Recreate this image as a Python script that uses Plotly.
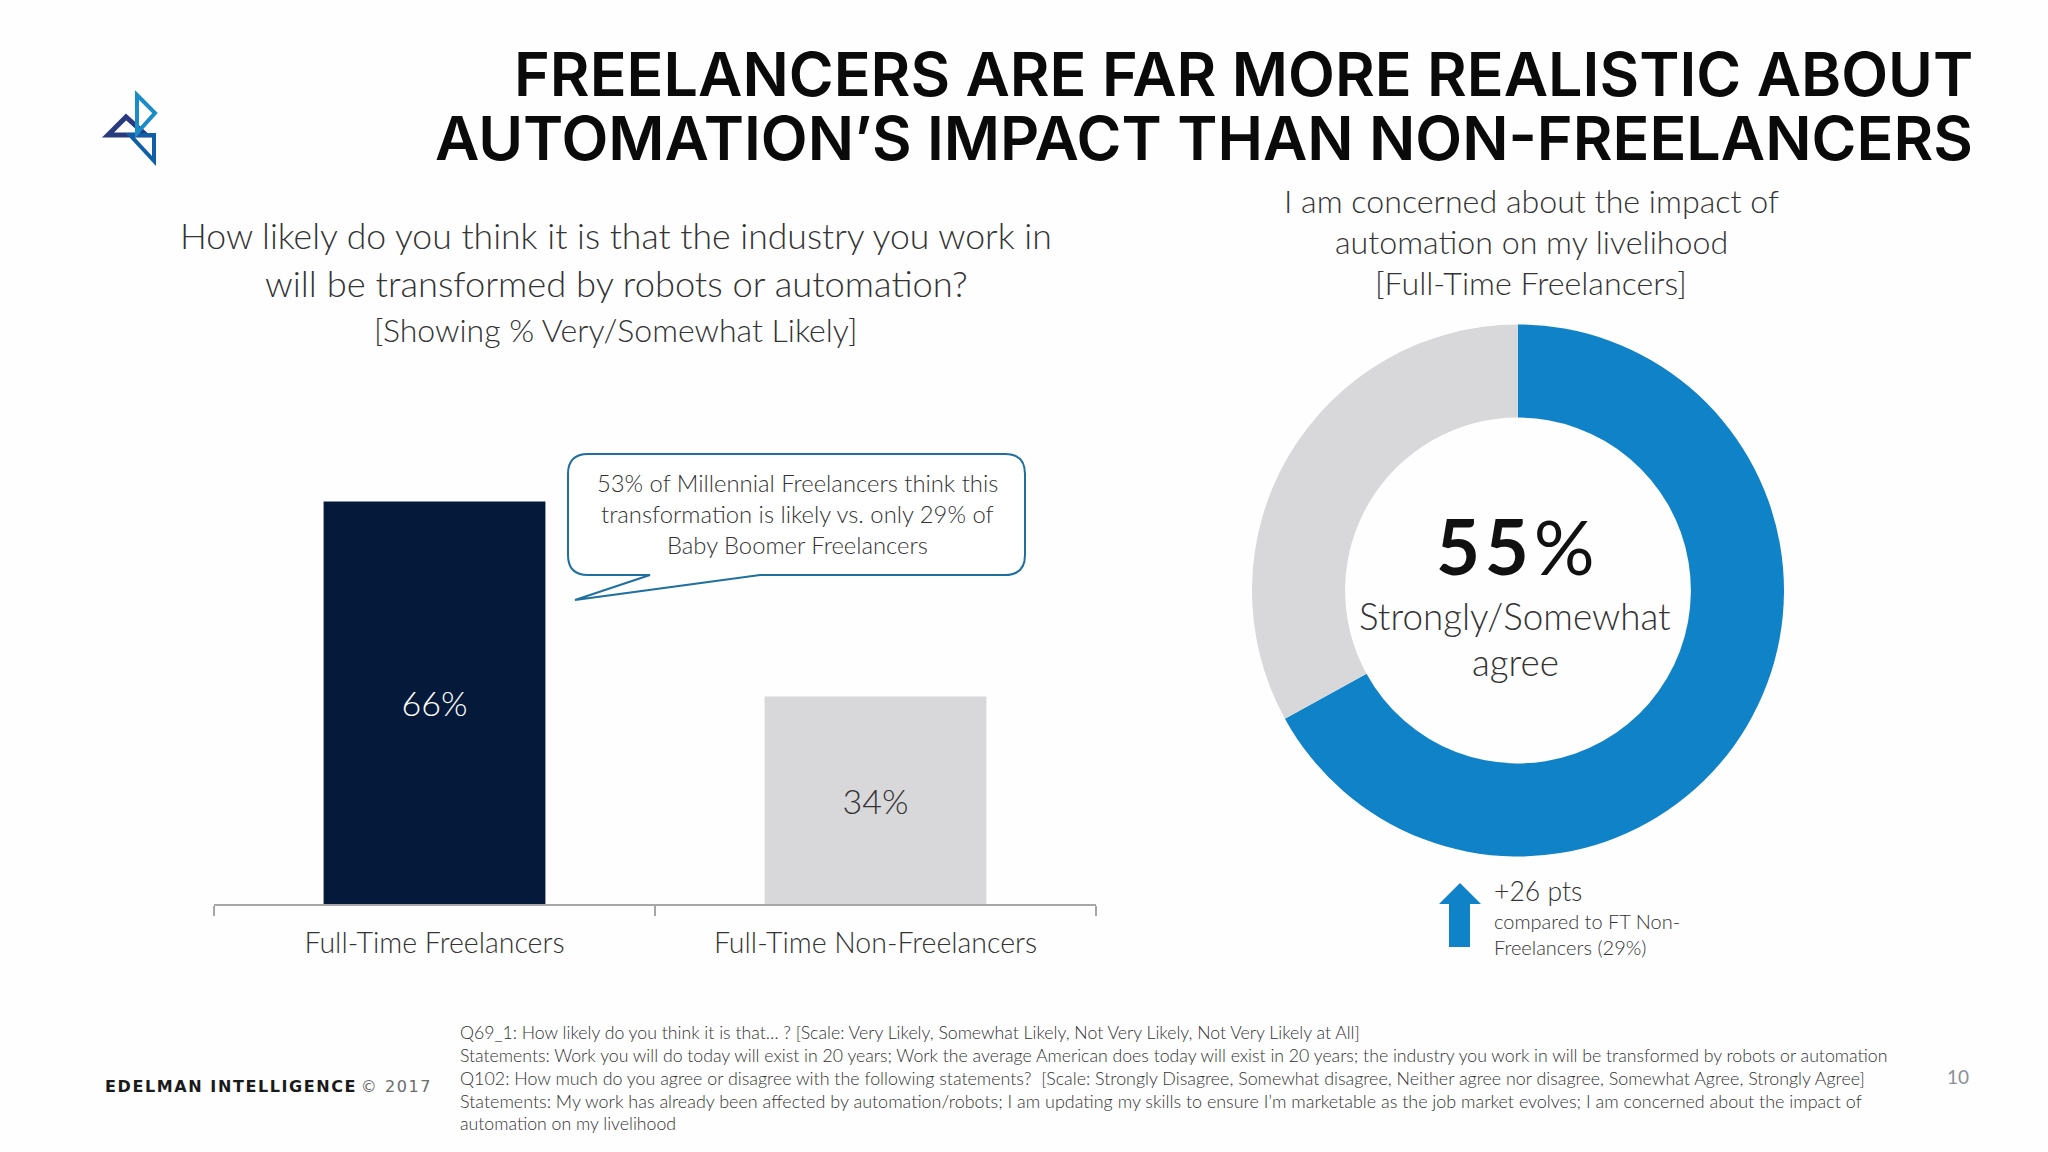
import plotly.graph_objects as go

W = 2048
H = 1152

# bar chart
categories = ['Full-Time Freelancers', 'Full-Time Non-Freelancers']
likely_pct = [66, 34]
bar_labels = ['66%', '34%']

# donut, sized as it is drawn in the slide
donut_labels = ['Strongly/Somewhat agree', 'Other']
donut_values = [67, 33]

title_lines = ['FREELANCERS ARE FAR MORE REALISTIC ABOUT',
               'AUTOMATION’S IMPACT THAN NON-FREELANCERS']
left_question = ['How likely do you think it is that the industry you work in',
                 'will be transformed by robots or automation?',
                 '[Showing % Very/Somewhat Likely]']
right_question = ['I am concerned about the impact of',
                  'automation on my livelihood',
                  '[Full-Time Freelancers]']
callout_lines = ['53% of Millennial Freelancers think this',
                 'transformation is likely vs. only 29% of',
                 'Baby Boomer Freelancers']
footnotes = ['Q69_1: How likely do you think it is that… ? [Scale: Very Likely, Somewhat Likely, Not Very Likely, Not Very Likely at All]',
             'Statements: Work you will do today will exist in 20 years; Work the average American does today will exist in 20 years; the industry you work in will be transformed by robots or automation',
             'Q102: How much do you agree or disagree with the following statements?  [Scale: Strongly Disagree, Somewhat disagree, Neither agree nor disagree, Somewhat Agree, Strongly Agree]',
             'Statements: My work has already been affected by automation/robots; I am updating my skills to ensure I’m marketable as the job market evolves; I am concerned about the impact of',
             'automation on my livelihood']

NAVY = '#051A3A'
GREY = '#D8D7DA'
BLUE = '#1082C8'
TEXT = '#333333'
SANS = 'Lato'
HAIR = '\u200a'

fig = go.Figure()

fig.add_trace(go.Bar(x=categories, y=likely_pct,
                     width=0.503,
                     marker=dict(color=[NAVY, GREY], line=dict(width=0)),
                     text=bar_labels,
                     textposition='inside',
                     insidetextanchor='middle',
                     textangle=0,
                     textfont=dict(family=SANS, size=34, weight=300, color=['#FFFFFF', TEXT]),
                     showlegend=False,
                     hoverinfo='skip'))

fig.add_trace(go.Pie(labels=donut_labels, values=donut_values,
                     hole=0.65,
                     sort=False,
                     direction='clockwise',
                     rotation=0,
                     marker=dict(colors=[BLUE, GREY], line=dict(width=0)),
                     textinfo='none',
                     showlegend=False,
                     hoverinfo='skip',
                     domain=dict(x=[(1518 - 266) / W, (1518 + 266) / W],
                                 y=[1 - (590.5 + 266) / H, 1 - (590.5 - 266) / H])))


# everything that is not a data mark is placed in slide pixels on a full-page axis pair
def add_text(x, y, text, size, color=TEXT, anchor='center', weight=300, family=SANS):
    fig.add_annotation(x=x, y=y, xref='x2', yref='y2', text=text, showarrow=False,
                       xanchor=anchor, yanchor='middle', align=anchor,
                       font=dict(family=family, size=size, color=color, weight=weight))


def add_path(path, line=None, width=0, fill='rgba(0,0,0,0)'):
    fig.add_shape(type='path', path=path, xref='x2', yref='y2', layer='above',
                  fillcolor=fill, line=dict(color=line or fill, width=width))


for y, line in zip([74, 138], title_lines):
    add_text(1975, y, line, 61, color='#0A0A0A', anchor='right', weight=600, family='Inter')

for y, line, size in zip([235, 283, 329], left_question, [35.6, 36.3, 32]):
    add_text(616, y, line, size)

for y, line in zip([200, 241, 282], right_question):
    add_text(1531, y, line, 32.2)

# speech bubble
add_path('M 588 454 L 1005 454 Q 1025 454 1025 474 L 1025 555 Q 1025 575 1005 575 '
         'L 760 575 L 575 600 L 650 575 L 588 575 Q 568 575 568 555 L 568 474 Q 568 454 588 454 Z',
         line='#1F6F9F', width=2, fill='#FFFFFF')
for y, line in zip([483, 514, 545], callout_lines):
    add_text(797, y, line, 23.8)

# donut centre
add_text(1515, 545, f'<b>5{HAIR}5</b>{HAIR}%', 76, color='#111111', weight=400)
add_text(1515, 616, 'Strongly/Somewhat', 36.8)
add_text(1515, 662, 'agree', 36.8)

# up arrow
add_path('M 1460 883 L 1481 904 L 1470 904 L 1470 947 L 1449 947 L 1449 904 L 1439 904 Z', fill=BLUE)
add_text(1492, 891, '+26 pts', 26.6, anchor='left')
add_text(1492, 921, 'compared to FT Non-', 20, anchor='left')
add_text(1492, 947, 'Freelancers (29%)', 20, anchor='left')

# logo
add_path('M 108 135 L 126 117 L 146 135 Z', line='#2A3A7E', width=5)
add_path('M 130 135 L 154 135 L 154 161 Z', line='#0F5FA8', width=4)
add_path('M 137 95 L 155 113 L 137 133 Z', line='#1A8CC8', width=4)

# footer
for y, line, size in zip([1032, 1055, 1078, 1101, 1123], footnotes, [17.7, 17.7, 17.85, 17.95, 17.7]):
    add_text(458, y, line, size, anchor='left')
brand = HAIR.join('EDELMAN INTELLIGENCE')
year = HAIR.join('© 2017')
add_text(103, 1086, f'<b>{brand}</b> <span style="color:#6B6B6B">{year}</span>', 16,
         color='#1A1A1A', anchor='left', weight=400, family='DejaVu Sans')
add_text(1958, 1076, '10', 19, color='#8A9095', weight=400)

fig.update_layout(width=W, height=H,
                  margin=dict(l=0, r=0, t=0, b=0),
                  paper_bgcolor='#FEFEFE',
                  plot_bgcolor='rgba(0,0,0,0)',
                  xaxis=dict(domain=[214 / W, 1096 / W], anchor='y',
                             showline=True, linecolor='#A6A6A6', linewidth=1.5,
                             ticks='outside', tickson='boundaries', ticklen=10,
                             tickcolor='#A6A6A6', tickwidth=1.5,
                             ticklabelstandoff=13,
                             tickfont=dict(family=SANS, size=28.5, weight=300, color=TEXT),
                             showgrid=False, zeroline=False, fixedrange=True),
                  yaxis=dict(domain=[1 - 904 / H, 1 - 294 / H], range=[0, 100], anchor='x',
                             visible=False, fixedrange=True),
                  xaxis2=dict(domain=[0, 1], range=[0, W], anchor='y2',
                              visible=False, fixedrange=True),
                  yaxis2=dict(domain=[0, 1], range=[H, 0], anchor='x2',
                              visible=False, fixedrange=True))

fig.write_html("out.html", config=dict(displayModeBar=False),
               post_script="document.body.style.margin='0';")
